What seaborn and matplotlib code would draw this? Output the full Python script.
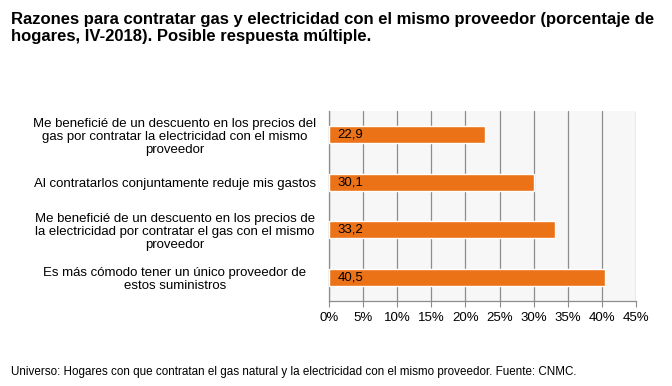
import matplotlib
matplotlib.use("Agg")
import matplotlib.pyplot as plt
import seaborn as sns
import pandas as pd

categories = [
    "Me benefici\u00e9 de un descuento en los precios del\ngas por contratar la electricidad con el mismo\nproveedor",
    "Al contratarlos conjuntamente reduje mis gastos",
    "Me benefici\u00e9 de un descuento en los precios de\nla electricidad por contratar el gas con el mismo\nproveedor",
    "Es más cómodo tener un único proveedor de\nestos suministros",
]
values = [22.9, 30.1, 33.2, 40.5]
xticks = [0, 5, 10, 15, 20, 25, 30, 35, 40, 45]

title = ("Razones para contratar gas y electricidad con el mismo proveedor (porcentaje de\n"
         "hogares, IV-2018). Posible respuesta múltiple.")
source = ("Universo: Hogares con que contratan el gas natural y la electricidad con el mismo "
          "proveedor. Fuente: CNMC.")

sns.set_style("white")
plt.rcParams["font.family"] = ["Liberation Sans", "DejaVu Sans"]
plt.rcParams["text.color"] = "black"
plt.rcParams["xtick.color"] = "black"
plt.rcParams["ytick.color"] = "black"

df = pd.DataFrame({"motivo": categories, "pct": values})

fig = plt.figure(figsize=(6.72, 3.86), dpi=100)
ax = fig.add_axes([0.4896, 0.2202, 0.4568, 0.4922])
ax.set_facecolor("#F7F7F7")

sns.barplot(data=df, y="motivo", x="pct", color="#EC7218", width=0.36,
            saturation=1, ax=ax, zorder=3)

# value labels inside the bars, decimal comma
for i, v in enumerate(values):
    ax.text(1.2, i, f"{v:.1f}".replace(".", ","), va="center", ha="left",
            fontsize=9.5, color="black", zorder=4)

ax.set_xlim(0, 45)
ax.set_ylim(3.5, -0.5)
ax.set_xticks(xticks)
ax.set_xticklabels([f"{t}%" for t in xticks], fontsize=9.5)
ax.set_xlabel("")
ax.set_ylabel("")
ax.grid(axis="x", color="#8C8C8C", linewidth=0.9, zorder=0)
ax.set_yticks([-0.5, 0.5, 1.5, 2.5, 3.5], minor=True)
ax.set_yticks([0, 1, 2, 3])
ax.set_yticklabels(categories, fontsize=9.5, ha="center", linespacing=1.15)
ax.tick_params(axis="y", which="major", length=0, pad=111)
ax.tick_params(axis="y", which="minor", length=4, color="#8C8C8C", direction="out")
ax.tick_params(axis="x", length=4, color="#8C8C8C", labelcolor="black",
               direction="out", bottom=True, pad=4)
for s in ["top", "right"]:
    ax.spines[s].set_visible(False)
for s in ["left", "bottom"]:
    ax.spines[s].set_color("#8C8C8C")
    ax.spines[s].set_linewidth(0.9)

fig.text(0.017, 0.97, title, fontsize=12, fontweight="bold", va="top", ha="left",
         linespacing=1.2)
fig.text(0.017, 0.035, source, fontsize=8.4, va="center", ha="left")

fig.savefig("out.png", dpi=100)
plt.close(fig)
